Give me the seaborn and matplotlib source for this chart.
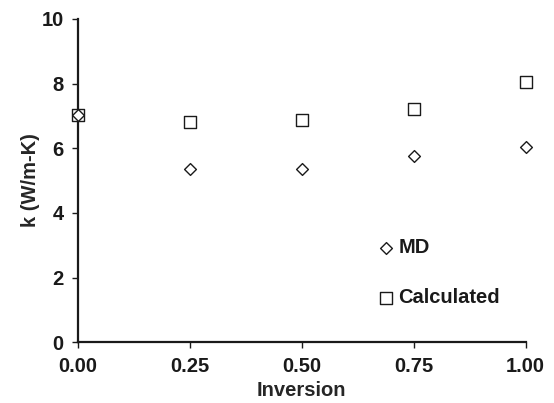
import numpy as np
import pandas as pd
import matplotlib
matplotlib.use("Agg")
import matplotlib.pyplot as plt
import seaborn as sns

# --------------------------
# Data
# --------------------------
inversion = [0.00, 0.25, 0.50, 0.75, 1.00]
k_md = [7.02, 5.37, 5.37, 5.77, 6.03]
k_calc = [7.02, 6.80, 6.88, 7.20, 8.04]
x_ticks = [0.00, 0.25, 0.50, 0.75, 1.00]
y_ticks = [0, 2, 4, 6, 8, 10]

df = pd.DataFrame({
    "inversion": inversion * 2,
    "k": k_md + k_calc,
    "series": ["MD"] * len(k_md) + ["Calculated"] * len(k_calc),
})

sns.set_style("ticks")
plt.rcParams["font.family"] = ["Liberation Sans", "DejaVu Sans"]
plt.rcParams["font.weight"] = "bold"
plt.rcParams["axes.labelweight"] = "bold"

fs = 14.5
fig = plt.figure(figsize=(5.54, 4.03), dpi=100)
ax = fig.add_axes([0.140, 0.151, 0.809, 0.802])

# squares first so the diamond sits on top at x=0
sns.scatterplot(data=df[df["series"] == "Calculated"], x="inversion", y="k",
                marker="s", s=80, facecolor="white", edgecolor="#1a1a1a",
                linewidth=1.0, label="Calculated", ax=ax, zorder=3, clip_on=False)
sns.scatterplot(data=df[df["series"] == "MD"], x="inversion", y="k",
                marker="D", s=36, facecolor="white", edgecolor="#1a1a1a",
                linewidth=1.0, label="MD", ax=ax, zorder=4, clip_on=False)

ax.set_xlim(0, 1)
ax.set_ylim(0, 10)
ax.set_xticks(x_ticks)
ax.set_xticklabels([f"{v:.2f}" for v in x_ticks])
ax.set_yticks(y_ticks)
ax.set_xlabel("Inversion", fontsize=fs, fontweight="bold", labelpad=3)
ax.set_ylabel("k (W/m-K)", fontsize=fs, fontweight="bold", labelpad=1)
ax.tick_params(axis="both", labelsize=fs, length=4, width=1, color="#1a1a1a",
               labelcolor="#1a1a1a")
ax.tick_params(axis="x", pad=7)
ax.tick_params(axis="y", pad=6)
for lab in ax.get_xticklabels() + ax.get_yticklabels():
    lab.set_fontweight("bold")

sns.despine(ax=ax)
for sp in ["left", "bottom"]:
    ax.spines[sp].set_linewidth(1.6)
    ax.spines[sp].set_color("#1a1a1a")

# Legend: MD on top, Calculated below, no frame
handles, labels = ax.get_legend_handles_labels()
order = [labels.index("MD"), labels.index("Calculated")]
leg = ax.legend([handles[i] for i in order], [labels[i] for i in order],
                loc="center left", bbox_to_anchor=(0.669, 0.215),
                frameon=False, borderpad=0, borderaxespad=0,
                handlelength=0.9, handletextpad=0.15, labelspacing=1.55,
                prop={"size": fs, "weight": "bold"})
for t in leg.get_texts():
    t.set_color("#1a1a1a")

fig.savefig("out.png", dpi=100)
